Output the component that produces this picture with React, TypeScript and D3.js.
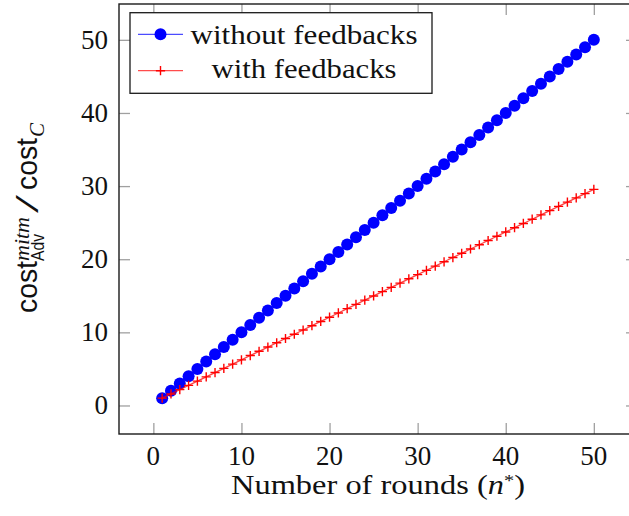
import React, { useEffect, useRef } from 'react';
import * as d3 from 'd3';

// number of rounds n*
const rounds = [
  1, 2, 3, 4, 5, 6, 7, 8, 9, 10, 11, 12, 13, 14, 15, 16, 17, 18, 19, 20, 21, 22, 23, 24, 25,
  26, 27, 28, 29, 30, 31, 32, 33, 34, 35, 36, 37, 38, 39, 40, 41, 42, 43, 44, 45, 46, 47, 48, 49, 50,
];
const withoutFeedbacks = [
  1, 2, 3, 4, 5, 6, 7, 8, 9, 10, 11, 12, 13, 14, 15, 16, 17, 18, 19, 20, 21, 22, 23, 24, 25,
  26, 27, 28, 29, 30, 31, 32, 33, 34, 35, 36, 37, 38, 39, 40, 41, 42, 43, 44, 45, 46, 47, 48, 49, 50,
];
const withFeedbacks = [
  1.0, 1.58, 2.17, 2.75, 3.33, 3.91, 4.5, 5.08, 5.66, 6.24, 6.83, 7.41, 7.99, 8.58, 9.16, 9.74,
  10.32, 10.91, 11.49, 12.07, 12.65, 13.24, 13.82, 14.4, 14.98, 15.57, 16.15, 16.73, 17.32, 17.9,
  18.48, 19.06, 19.65, 20.23, 20.81, 21.4, 21.98, 22.56, 23.14, 23.73, 24.31, 24.89, 25.47, 26.06,
  26.64, 27.22, 27.81, 28.39, 28.97, 29.55,
];
const xTicks = [0, 10, 20, 30, 40, 50];
const yTicks = [0, 10, 20, 30, 40, 50];
const seriesNames = ['without feedbacks', 'with feedbacks'];

export default function App() {
  const ref = useRef<SVGSVGElement>(null);
  const width = 629;
  const height = 516;
  // plot box (right edge runs past the window, like the reference)
  const box = { left: 119, right: 637, top: 4, bottom: 434 };
  const serif = '"Liberation Serif", "Times New Roman", serif';
  const sans = '"Liberation Sans", Arial, sans-serif';

  useEffect(() => {
    const svg = d3.select(ref.current);
    svg.selectAll('*').remove();

    const x = d3.scaleLinear().domain([-3.9, 54.9]).range([box.left, box.right]);
    const y = d3.scaleLinear().domain([-3.9, 54.9]).range([box.bottom, box.top]);

    // tick marks, pointing inward on all four sides
    const styleAxis = (g) => {
      g.select('.domain').remove();
      g.selectAll('.tick line').attr('stroke', '#a0a0a0').attr('stroke-width', 1.3);
      g.selectAll('.tick text').remove();
    };
    svg.append('g')
      .attr('transform', 'translate(0,' + box.bottom + ')')
      .call(d3.axisBottom(x).tickValues(xTicks).tickSize(-11))
      .call(styleAxis);
    svg.append('g')
      .attr('transform', 'translate(0,' + box.top + ')')
      .call(d3.axisTop(x).tickValues(xTicks).tickSize(-11))
      .call(styleAxis);
    svg.append('g')
      .attr('transform', 'translate(' + box.left + ',0)')
      .call(d3.axisLeft(y).tickValues(yTicks).tickSize(-11))
      .call(styleAxis);
    svg.append('g')
      .attr('transform', 'translate(' + box.right + ',0)')
      .call(d3.axisRight(y).tickValues(yTicks).tickSize(-11))
      .call(styleAxis);

    // tick labels
    svg.append('g')
      .selectAll('text')
      .data(xTicks)
      .enter().append('text')
      .attr('x', (d) => x(d))
      .attr('y', 465)
      .attr('text-anchor', 'middle')
      .attr('fill', '#111')
      .style('font-family', serif)
      .style('font-size', '27px')
      .text((d) => d);
    svg.append('g')
      .selectAll('text')
      .data(yTicks)
      .enter().append('text')
      .attr('x', 108)
      .attr('y', (d) => y(d) + 9)
      .attr('text-anchor', 'end')
      .attr('fill', '#111')
      .style('font-family', serif)
      .style('font-size', '27px')
      .text((d) => d);

    svg.append('rect')
      .attr('x', box.left)
      .attr('y', box.top)
      .attr('width', box.right - box.left)
      .attr('height', box.bottom - box.top)
      .attr('fill', 'none')
      .attr('stroke', '#1a1a1a')
      .attr('stroke-width', 1.4);

    const line = d3.line<number>()
      .x((d, i) => x(rounds[i]))
      .y((d) => y(d));

    // without feedbacks: blue line + filled circles
    svg.append('path')
      .datum(withoutFeedbacks)
      .attr('d', line)
      .attr('fill', 'none')
      .attr('stroke', '#0000ff')
      .attr('stroke-opacity', 0.7)
      .attr('stroke-width', 1.3);
    svg.append('g')
      .selectAll('circle')
      .data(withoutFeedbacks)
      .enter().append('circle')
      .attr('cx', (d, i) => x(rounds[i]))
      .attr('cy', (d) => y(d))
      .attr('r', 6)
      .attr('fill', '#0000ff');

    // with feedbacks: red line + crosses
    const cross = 'M-4.6,0H4.6M0,-4.6V4.6';
    svg.append('path')
      .datum(withFeedbacks)
      .attr('d', line)
      .attr('fill', 'none')
      .attr('stroke', '#ff0000')
      .attr('stroke-opacity', 0.75)
      .attr('stroke-width', 1.3);
    svg.append('g')
      .selectAll('path')
      .data(withFeedbacks)
      .enter().append('path')
      .attr('d', cross)
      .attr('transform', (d, i) => 'translate(' + x(rounds[i]) + ',' + y(d) + ')')
      .attr('fill', 'none')
      .attr('stroke', '#ff0000')
      .attr('stroke-width', 1.4);

    // legend
    const legend = svg.append('g');
    legend.append('rect')
      .attr('x', 130)
      .attr('y', 12.7)
      .attr('width', 302)
      .attr('height', 80.6)
      .attr('fill', '#fff')
      .attr('stroke', '#1a1a1a')
      .attr('stroke-width', 1.3);
    const rows = [
      { name: seriesNames[0], color: '#0000ff', y: 34.3, textY: 43.5, len: 227 },
      { name: seriesNames[1], color: '#ff0000', y: 70.7, textY: 78, len: 185 },
    ];
    rows.forEach((r, i) => {
      legend.append('line')
        .attr('x1', 138).attr('x2', 183)
        .attr('y1', r.y).attr('y2', r.y)
        .attr('stroke', r.color)
        .attr('stroke-opacity', 0.7)
        .attr('stroke-width', 1.3);
      if (i === 0) {
        legend.append('circle')
          .attr('cx', 160.5).attr('cy', r.y).attr('r', 6)
          .attr('fill', r.color);
      } else {
        legend.append('path')
          .attr('d', cross)
          .attr('transform', 'translate(160.5,' + r.y + ')')
          .attr('fill', 'none')
          .attr('stroke', r.color)
          .attr('stroke-width', 1.4);
      }
      legend.append('text')
        .attr('x', 304)
        .attr('y', r.textY)
        .attr('text-anchor', 'middle')
        .attr('textLength', r.len)
        .attr('lengthAdjust', 'spacingAndGlyphs')
        .style('font-family', serif)
        .style('font-size', '27px')
        .attr('fill', '#111')
        .text(r.name);
    });

    // x axis label
    const xl = svg.append('text')
      .attr('x', 378)
      .attr('y', 494)
      .attr('text-anchor', 'middle')
      .attr('textLength', 294)
      .attr('lengthAdjust', 'spacingAndGlyphs')
      .style('font-family', serif)
      .style('font-size', '27px')
      .attr('fill', '#111');
    xl.append('tspan').text('Number of rounds (');
    xl.append('tspan').style('font-style', 'italic').text('n');
    xl.append('tspan').attr('dy', -8).style('font-size', '17px').text('*');
    xl.append('tspan').attr('dy', 8).text(')');

    // y axis label, rotated: local x = -screenY, local y = screenX
    const yl = svg.append('g').attr('transform', 'rotate(-90)').attr('fill', '#111');
    const piece = (txt, sx, sy, font, size, len, italic = false) => {
      const t = yl.append('text')
        .attr('x', -sy)
        .attr('y', sx)
        .style('font-family', font)
        .style('font-size', size + 'px')
        .style('font-style', italic ? 'italic' : 'normal')
        .text(txt);
      if (len) t.attr('textLength', len).attr('lengthAdjust', 'spacingAndGlyphs');
    };
    piece('cost', 37, 313, sans, 30, 52);
    piece('mitm', 29, 261, serif, 21, 44, true);
    piece('Adv', 44, 261, sans, 18, 27);
    piece('/', 38, 213, serif, 34, 18);
    piece('cost', 37, 190, sans, 30, 52);
    piece('C', 44, 137, serif, 21, 0, true);
  }, []);

  return (
    <svg
      ref={ref}
      width={width}
      height={height}
      style={{ position: 'absolute', left: 0, top: 0, background: '#fff' }}
    />
  );
}
